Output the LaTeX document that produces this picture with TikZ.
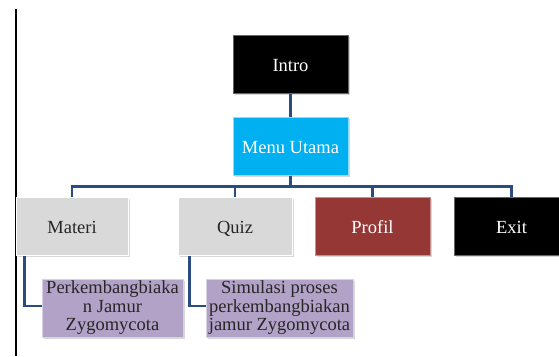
\documentclass[tikz,border=0pt]{standalone}
\usepackage{fontspec}
\setmainfont{Liberation Serif}
\usepackage{tikz}
\usetikzlibrary{
  positioning,
  calc,
  shadows
}
\definecolor{menucyan}{HTML}{00B0F0}
\definecolor{itemgray}{HTML}{D9D9D9}
\definecolor{profilred}{HTML}{953735}
\definecolor{leaflilac}{HTML}{B3A2C7}
\definecolor{linknavy}{HTML}{2B4C7E}
\definecolor{darktext}{HTML}{262626}

\begin{document}
\begin{tikzpicture}[
    x=1pt, y=-1pt,
    every node/.style={font=\fontsize{18.5}{18.5}\selectfont},
    menubox/.style={rectangle, minimum width=115pt, minimum height=58pt,
                 inner sep=2pt, align=center, line width=1pt,
                 drop shadow={shadow xshift=1.5pt, shadow yshift=-1.5pt, fill=black!30}},
    itembox/.style={menubox, text height=16pt, text depth=2pt},
    leafbox/.style={menubox, fill=leaflilac, draw=leaflilac!50!white,
                 text=darktext, minimum height=58pt},
    link/.style={linknavy, line width=2.3pt},
]
\useasboundingbox (0,0) rectangle (559,356);

% page margin line
\draw[black, line width=1.6pt] (15.7,9) -- (15.7,356);

\node[itembox, fill=black, draw=black!60!white, text=white] (intro) at (290.5,64) {Intro};
\node[itembox, fill=menucyan, draw=menucyan!45!white, text=white, below=23pt of intro] (menu) {Menu Utama};

\node[itembox, fill=itemgray, draw=white, text=darktext, minimum width=112pt] (materi) at (72,226) {Materi};
\node[itembox, fill=itemgray, draw=white, text=darktext, minimum width=114pt, right=49pt of materi] (quiz) {Quiz};
\node[itembox, fill=profilred, draw=profilred!55!white, text=white, right=22pt of quiz] (profil) {Profil};
\node[itembox, fill=black, draw=black!60!white, text=white, right=23pt of profil] (exit) {Exit};

\node[leafbox, minimum width=141pt, anchor=north west] (perk)
    at ([xshift=26pt, yshift=-23pt]materi.south west) {Perkembangbiaka\\n Jamur\\Zygomycota};
\node[leafbox, minimum width=147pt, anchor=north west] (simulasi)
    at ([xshift=28pt, yshift=-23pt]quiz.south west) {Simulasi proses\\perkembangbiakan\\jamur Zygomycota};

\draw[link] (intro) -- (menu);
\foreach \n in {materi,quiz,profil,exit}
  \draw[link] (menu.south) -- ++(0pt,-11pt) -| (\n.north);

\draw[link] ([xshift=9pt]materi.south west) |- ([yshift=2pt]perk.west);
\draw[link] ([xshift=12pt]quiz.south west) |- ([yshift=2pt]simulasi.west);

\end{tikzpicture}
\end{document}
